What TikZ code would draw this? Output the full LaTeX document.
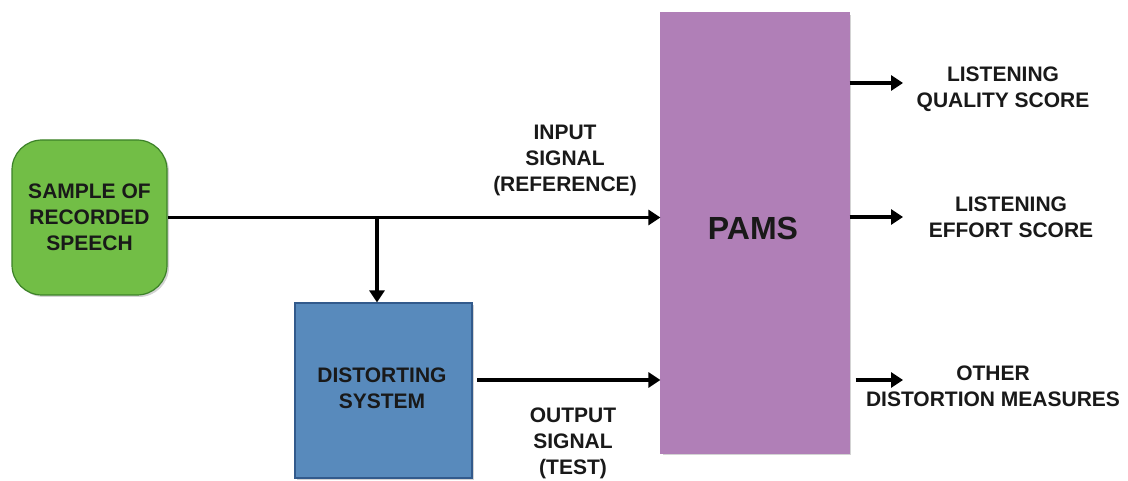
\documentclass[tikz,border=0pt]{standalone}
\usepackage{fontspec}
\setmainfont{Liberation Sans}
\usetikzlibrary{arrows.meta,shadows}
\definecolor{gfill}{RGB}{114,190,70}
\definecolor{gdraw}{RGB}{60,130,40}
\definecolor{bfill}{RGB}{88,138,188}
\definecolor{bdraw}{RGB}{50,90,140}
\definecolor{pfill}{RGB}{176,127,183}
\definecolor{txt}{RGB}{25,25,25}
\tikzset{
  lbl/.style={text=txt, font=\fontsize{21}{26}\selectfont\bfseries, align=center, inner sep=0pt},
  blk/.style={lbl, draw, line width=1.2pt, drop shadow={shadow xshift=2pt, shadow yshift=-2pt, opacity=0.35}},
  arr/.style={line width=3.2pt, -{Triangle[length=12pt,width=15pt]}},
  ln/.style={line width=3.2pt}
}
\begin{document}
\begin{tikzpicture}[x=1pt,y=1pt]
\useasboundingbox (0,0) rectangle (1128,-481);
\node[blk, fill=gfill, draw=gdraw, rounded corners=30pt, minimum width=155pt, minimum height=155pt] (src) at (89.5,-217.5) {SAMPLE OF\\RECORDED\\SPEECH};
\node[blk, fill=bfill, draw=bdraw, minimum width=177pt, minimum height=175pt] (dist) at (383.5,-390.5) {};
\node[lbl] (distt) at (382,-388) {DISTORTING\\SYSTEM};
\node[blk, fill=pfill, draw=pfill, minimum width=188pt, minimum height=440pt] (pams) at (755,-233) {};
\node[lbl, font=\fontsize{32}{38}\selectfont\bfseries] (pamst) at (753,-228) {PAMS};
% labels
\node[lbl] (inl) at (565,-160) {INPUT\\SIGNAL\\(REFERENCE)};
\node[lbl] (outl) at (573,-443) {OUTPUT\\SIGNAL\\(TEST)};
\node[lbl] (q) at (1003,-89) {LISTENING\\QUALITY SCORE};
\node[lbl] (e) at (1011,-217) {LISTENING\\EFFORT SCORE};
\node[lbl] (o) at (993,-386) {OTHER\\DISTORTION MEASURES};
% connectors
\coordinate (br) at (377,-217.5);
\draw[arr] (src.east) -- (src.east -| pams.west);
\draw[arr] (br) -- (br |- dist.north);
\coordinate (dout) at (477,-380);
\draw[arr] (dout) -- (dout -| pams.west);
\coordinate (t1) at (903,-83);
\coordinate (t2) at (903,-217);
\coordinate (t3) at (903,-380);
\draw[arr] (t1 -| pams.east) -- (t1);
\draw[arr] (t2 -| pams.east) -- (t2);
\draw[arr] ([xshift=6pt]t3 -| pams.east) -- (t3);
\end{tikzpicture}
\end{document}
